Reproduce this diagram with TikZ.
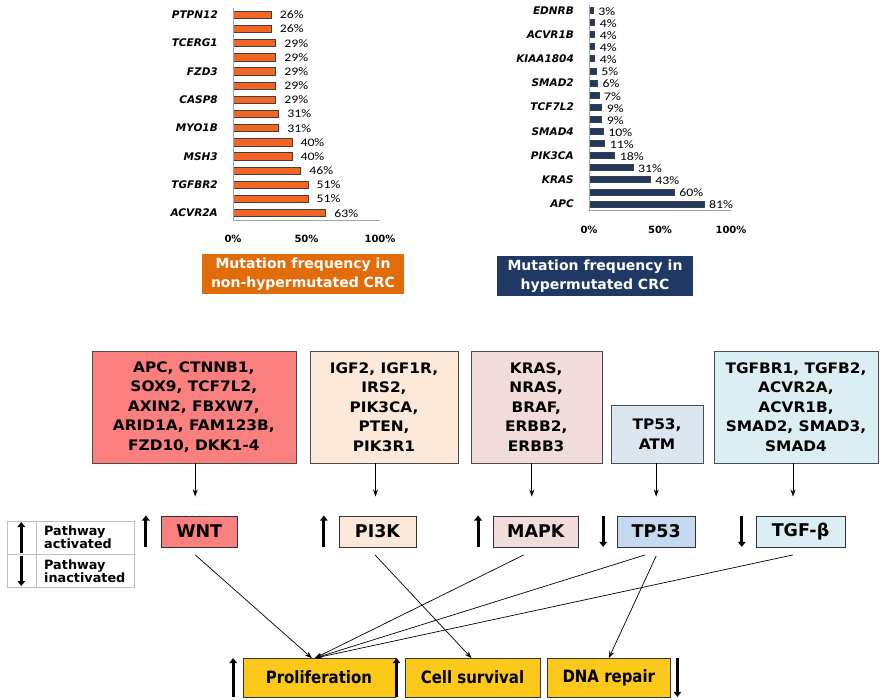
\documentclass[tikz,border=0pt]{standalone}
\usepackage{fontspec}
\usepackage{tikz}
\usetikzlibrary{arrows.meta}
\setmainfont{DejaVu Sans}
\newfontfamily\pctfont{Carlito}[FakeStretch=1.2]
\newfontfamily\genefont{DejaVu Sans}[FakeStretch=1.06]
\newfontfamily\outfont{DejaVu Sans}[FakeStretch=0.88]
\definecolor{barorange}{RGB}{242,101,34}
\definecolor{titleorange}{RGB}{227,108,10}
\definecolor{navy}{RGB}{31,56,100}
\definecolor{wntred}{RGB}{250,128,128}
\definecolor{pikpeach}{RGB}{253,233,217}
\definecolor{mapkpink}{RGB}{242,220,219}
\definecolor{tpgrey}{RGB}{220,230,240}
\definecolor{tpblue}{RGB}{198,217,241}
\definecolor{tgfcyan}{RGB}{219,238,243}
\definecolor{gold}{RGB}{252,200,25}

\begin{document}
\begin{tikzpicture}[x=1pt,y=-1pt,
  bar/.style={draw=black!75,line width=0.6pt},
  pct/.style={font=\pctfont\fontsize{11.5}{12}\selectfont,inner sep=0pt,anchor=west},
  gene/.style={font=\bfseries\itshape\fontsize{10.5}{12}\selectfont,inner sep=0pt,anchor=east},
  tick/.style={font=\bfseries\fontsize{10}{12}\selectfont,inner sep=0pt},
  axis/.style={draw=black!35,line width=0.8pt},
  title/.style={text=white,align=center,font=\bfseries\fontsize{14}{19}\selectfont,inner sep=0pt},
  genes/.style={draw=black!70,align=center,font=\genefont\bfseries\fontsize{14.5}{19.4}\selectfont,inner sep=0pt},
  pathway/.style={draw=black!80,minimum height=31pt,font=\bfseries\fontsize{17.5}{20}\selectfont,inner sep=0pt},
  outcome/.style={draw=black!80,fill=gold,minimum height=38.4pt,font=\outfont\bfseries\fontsize{17}{20}\selectfont,inner sep=0pt},
  link/.style={-{Stealth[length=7pt,width=5pt]},line width=0.7pt},
  trend/.style={line width=2.8pt,-{Triangle[length=5pt,width=7.5pt]}},
  legendtext/.style={align=left,font=\bfseries\fontsize{12.8}{13}\selectfont,inner sep=0pt,anchor=west}]
\useasboundingbox (0,0) rectangle (880,699);
% mutation frequency, non-hypermutated
\foreach \v [count=\i] in {26,26,29,29,29,29,29,31,31,40,40,46,51,51,63}{
  \path[bar,fill=barorange] (233,{11+14.17*(\i-1)}) rectangle ++({1.47*\v},7.3);
  \node[pct] (lv\i) at ({233+1.47*\v+8.5},{14.9+14.17*(\i-1)}) {\v\%};
}
\foreach \g [count=\i] in {PTPN12,TCERG1,FZD3,CASP8,MYO1B,MSH3,TGFBR2,ACVR2A}
  \node[gene] (lg\i) at (218,{14.7+28.34*(\i-1)}) {\g};
\draw[axis] (233,8) -- (233,220) -- (380,220);
\node[tick] (lt0) at (233,239) {0\%};
\node[tick] (lt50) at (306.5,239) {50\%};
\node[tick] (lt100) at (380,239) {100\%};
\node[title,fill=titleorange,minimum width=202pt,minimum height=40pt] (lefttitle) at (303,274)
  {Mutation frequency in\\non-hypermutated CRC};
% mutation frequency, hypermutated
\foreach \v [count=\i] in {3,4,4,4,4,5,6,7,9,9,10,11,18,31,43,60,81}{
  \path[bar,fill=navy] (589,{7.3+12.1*(\i-1)}) rectangle ++({1.42*\v},6);
  \node[pct] (rv\i) at ({589+1.42*\v+5},{11.5+12.1*(\i-1)}) {\v\%};
}
\foreach \g [count=\i] in {EDNRB,ACVR1B,KIAA1804,SMAD2,TCF7L2,SMAD4,PIK3CA,KRAS,APC}
  \node[gene] (rg\i) at (574,{10.3+24.2*(\i-1)}) {\g};
\draw[axis] (589,5) -- (589,210) -- (731,210);
\node[tick] (rt0) at (589,230) {0\%};
\node[tick] (rt50) at (660,230) {50\%};
\node[tick] (rt100) at (731,230) {100\%};
\node[title,fill=navy,minimum width=196pt,minimum height=40pt] (righttitle) at (595,276)
  {Mutation frequency in\\hypermutated CRC};
% genes
\node[genes,fill=wntred,minimum width=204pt,minimum height=112pt] (genes-wnt) at (193.8,407)
  {APC, CTNNB1,\\SOX9, TCF7L2,\\AXIN2, FBXW7,\\ARID1A, FAM123B,\\FZD10, DKK1-4};
\node[genes,fill=pikpeach,minimum width=148pt,minimum height=112pt] (genes-pi3k) at (384,407)
  {IGF2, IGF1R,\\IRS2,\\PIK3CA,\\PTEN,\\PIK3R1};
\node[genes,fill=mapkpink,minimum width=131pt,minimum height=112pt] (genes-mapk) at (536.2,407)
  {KRAS,\\NRAS,\\BRAF,\\ERBB2,\\ERBB3};
\node[genes,fill=tpgrey,minimum width=92pt,minimum height=57.7pt] (genes-tp53) at (657,434)
  {TP53,\\ATM};
\node[genes,fill=tgfcyan,minimum width=164pt,minimum height=112pt] (genes-tgf) at (796,407)
  {TGFBR1, TGFB2,\\ACVR2A,\\ACVR1B,\\SMAD2, SMAD3,\\SMAD4};
% pathways
\node[pathway,fill=wntred,minimum width=76.3pt] (wnt) at (199.2,531.2) {WNT};
\node[pathway,fill=pikpeach,minimum width=77pt] (pi3k) at (377.5,531.2) {PI3K};
\node[pathway,fill=mapkpink,minimum width=85pt] (mapk) at (535.8,531.2) {MAPK};
\node[pathway,fill=tpblue,minimum width=77.7pt] (tp53) at (656.2,531.2) {TP53};
\node[pathway,fill=tgfcyan,minimum width=89pt] (tgf) at (800.5,531.2) {TGF-β};
\foreach \p/\dx in {wnt/-4,pi3k/-2,mapk/-4,tp53/0,tgf/-7.5}{
  \coordinate (in-\p) at ([xshift=\dx pt,yshift=19pt]\p.north);
  \draw[link] (genes-\p.south -| in-\p) -- (in-\p);
}
\foreach \n in {wnt,pi3k,mapk}
  \draw[trend] ([xshift=-15pt]\n.south west) -- ([xshift=-15pt]\n.north west);
\foreach \n in {tp53,tgf}
  \draw[trend] ([xshift=-14pt]\n.north west) -- ([xshift=-14pt]\n.south west);
% outcomes
\node[outcome,minimum width=152.3pt] (prolif) at (318.9,677.5) {Proliferation};
\node[outcome,minimum width=135pt] (survival) at (472.5,677.5) {Cell survival};
\node[outcome,minimum width=122.3pt] (dna) at (608.8,677.5) {DNA repair};
\draw[trend] ([xshift=-9.4pt]prolif.south west) -- ([xshift=-9.4pt]prolif.north west);
\draw[trend] ([xshift=-8.3pt]survival.south west) -- ([xshift=-8.3pt]survival.north west);
\draw[trend] ([xshift=7.3pt]dna.north east) -- ([xshift=7.3pt]dna.south east);
\draw[link] ([xshift=-4pt,yshift=-8pt]wnt.south) -- ([xshift=-7pt]prolif.north);
\draw[link] ([xshift=-2.5pt,yshift=-8pt]pi3k.south) -- ([xshift=-1pt]survival.north);
\draw[link] ([xshift=-12pt,yshift=-8pt]mapk.south) -- ([xshift=-4pt]prolif.north);
\draw[link] ([xshift=-11pt,yshift=-8pt]tp53.south) -- ([xshift=-4pt]prolif.north);
\draw[link] ([yshift=-9pt]tp53.south) -- (dna.north);
\draw[link] ([xshift=-7.5pt,yshift=-8pt]tgf.south) -- ([xshift=-4pt]prolif.north);
% legend
\draw[black!25] (7.3,520.7) rectangle (134.3,587.3);
\draw[black!25] (7.3,554.3) -- (134.3,554.3) (35.7,520.7) -- (35.7,587.3);
\draw[trend] (21.3,553) -- (21.3,522);
\draw[trend] (21.3,556) -- (21.3,586);
\node[legendtext] (acttext) at (44,537.5) {Pathway\\activated};
\node[legendtext] (inacttext) at (44,571) {Pathway\\inactivated};
\end{tikzpicture}
\end{document}
